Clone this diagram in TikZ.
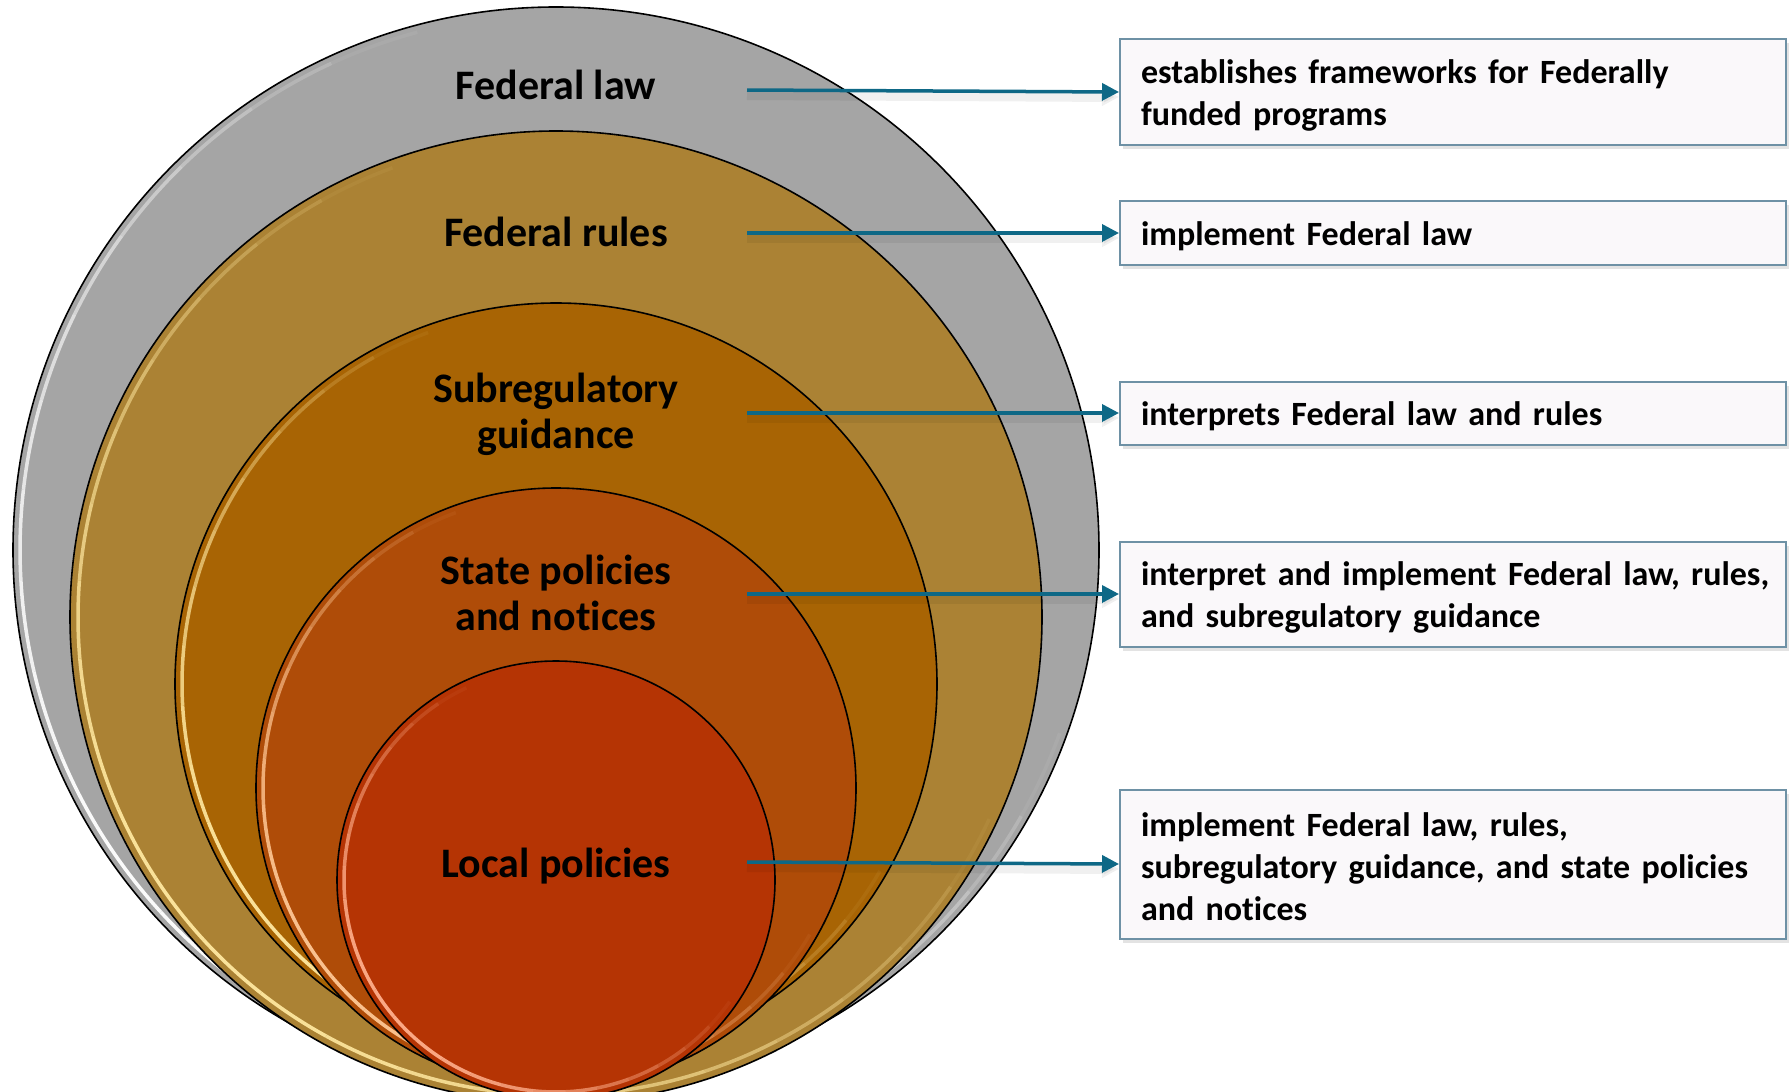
\documentclass[tikz,border=0pt]{standalone}
\usepackage{fontspec}
\setmainfont[Ligatures=NoCommon]{Carlito}
\usetikzlibrary{arrows.meta,shadows}
\definecolor{cgray}{RGB}{165,165,165}
\definecolor{crules}{RGB}{171,130,52}
\definecolor{csub}{RGB}{168,100,4}
\definecolor{cstate}{RGB}{175,76,8}
\definecolor{clocal}{RGB}{181,52,4}
\definecolor{arrowteal}{RGB}{14,104,134}
\definecolor{boxline}{RGB}{110,145,165}
\definecolor{boxfill}{RGB}{250,248,250}
\definecolor{hlgold}{RGB}{255,232,160}
\definecolor{hlorange}{RGB}{255,200,150}
\definecolor{hlred}{RGB}{255,175,140}
\newcommand\myhlring[5]{%
  \foreach \k in {0,...,23}{%
    \pgfmathsetmacro\myaa{#4+(#5-#4)*\k/24}%
    \pgfmathsetmacro\myab{#4+(#5-#4)*(\k+1)/24}%
    \pgfmathsetmacro\myop{0.95*sin(180*(\k+0.5)/24)}%
    \draw[line width=3.5pt,#3,opacity=\myop] ([shift={(#1)}]\myaa:#2) arc[start angle=\myaa,end angle=\myab,radius=#2];
  }}
\begin{document}
\begin{tikzpicture}[x=1pt,y=-1pt,
  ring/.style={circle,draw=black,line width=1.6pt,inner sep=0pt,outer sep=0pt},
  lbl/.style={font=\bfseries\fontsize{42}{46}\selectfont,align=center,text=black},
  infobox/.style={anchor=west,draw=boxline,line width=2pt,fill=boxfill,
    minimum width=666pt,text width=624pt,inner xsep=21pt,inner ysep=0pt,align=left,
    font=\bfseries\fontsize{34}{42}\selectfont,
    execute at begin node={\rule{0pt}{30pt}},
    drop shadow={opacity=0.22,shadow xshift=3pt,shadow yshift=-4pt}},
  arr/.style={draw=arrowteal,line width=3.5pt,-{Triangle[length=17pt,width=17pt]},
    preaction={draw=black,opacity=0.06,line width=10pt,transform canvas={yshift=-5pt}}},
]
\useasboundingbox (0,0) rectangle (1791,1092);
\clip (0,0) rectangle (1791,1092);
\fill[white] (0,0) rectangle (1791,1092);

% circles
\node[ring,fill=cgray,minimum size=1086pt] (cfed) at (556,550) {};
\myhlring{cfed.center}{536}{white}{255}{20}
\node[ring,fill=crules,minimum size=972pt] (crul) at (556,617) {};
\myhlring{crul.center}{478}{hlgold}{250}{25}
\node[ring,fill=csub,minimum size=762pt] (csb) at (556,684) {};
\myhlring{csb.center}{374}{hlgold}{250}{30}
\node[ring,fill=cstate,minimum size=600pt] (cst) at (556,788) {};
\myhlring{cst.center}{293}{hlorange}{250}{30}
\node[ring,fill=clocal,minimum size=438pt] (clo) at (556,880) {};
\myhlring{clo.center}{212}{hlred}{245}{35}

% labels
\node[lbl] (tfed) at (556,85) {Federal law};
\node[lbl] (trul) at (556,232) {Federal rules};
\node[lbl] (tsub) at (556,414) {Subregulatory\\guidance};
\node[lbl] (tst) at (556,593) {State policies\\and notices};
\node[lbl] (tlo) at (556,866) {Local policies};

% boxes
\node[infobox,minimum height=106pt] (b1) at (1119,92)
  {\mbox{establishes frameworks for Federally}\\\mbox{funded programs}};
\node[infobox,minimum height=64pt] (b2) at (1119,233)
  {\mbox{implement Federal law}};
\node[infobox,minimum height=63pt] (b3) at (1119,413)
  {\mbox{interprets Federal law and rules}};
\node[infobox,minimum height=105pt] (b4) at (1119,594)
  {\mbox{interpret and implement Federal law, rules,}\\\mbox{and subregulatory guidance}};
\node[infobox,minimum height=149pt] (b5) at (1119,864)
  {\mbox{implement Federal law, rules,}\\\mbox{subregulatory guidance, and state policies}\\\mbox{and notices}};

% arrows
\coordinate (a1) at (747,90);
\coordinate (a2) at (747,233);
\coordinate (a3) at (747,413);
\coordinate (a4) at (747,594);
\coordinate (a5) at (747,862);
\draw[arr] (a1) -- (b1.west);
\draw[arr] (a2) -- (b2.west);
\draw[arr] (a3) -- (b3.west);
\draw[arr] (a4) -- (b4.west);
\draw[arr] (a5) -- (b5.west);
\end{tikzpicture}
\end{document}
